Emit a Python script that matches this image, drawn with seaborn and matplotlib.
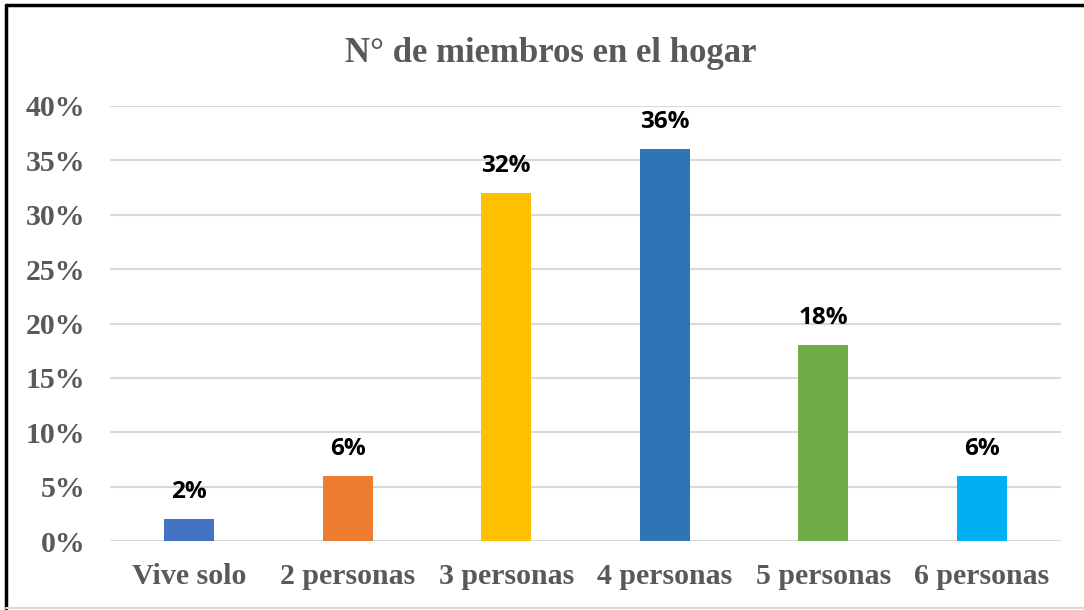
import matplotlib
matplotlib.use("Agg")
import matplotlib.pyplot as plt
import seaborn as sns
import pandas as pd
from matplotlib.lines import Line2D

# Datos del gráfico
categorias = ["Vive solo", "2 personas", "3 personas", "4 personas", "5 personas", "6 personas"]
porcentajes = [2, 6, 32, 36, 18, 6]
colores = ["#4472C4", "#ED7D31", "#FFC000", "#2E75B6", "#70AD47", "#00B0F0"]
ticks_y = [0, 5, 10, 15, 20, 25, 30, 35, 40]

df = pd.DataFrame({"categoria": categorias, "valor": porcentajes})

sns.set_style("white")
plt.rcParams["font.family"] = ["Liberation Serif", "DejaVu Serif"]

fig = plt.figure(figsize=(10.84, 6.10), dpi=100)
ax = fig.add_axes([110 / 1084, 69 / 610, 951 / 1084, 435 / 610])

sns.barplot(data=df, x="categoria", y="valor", hue="categoria", palette=colores,
            width=0.315, legend=False, ax=ax, saturation=1, zorder=3, linewidth=0)

ax.set_ylim(0, 40)
ax.set_yticks(ticks_y)
ax.set_yticklabels([f"{t}%" for t in ticks_y], fontsize=21.5, fontweight="bold", color="#595959")
ax.set_xticklabels(categorias, fontsize=21.5, fontweight="bold", color="#595959")
ax.tick_params(axis="both", length=0)
ax.tick_params(axis="y", pad=18)
ax.tick_params(axis="x", pad=16)
ax.set_xlabel("")
ax.set_ylabel("")
ax.grid(axis="y", color="#D9D9D9", linewidth=1.5, zorder=0)
for s in ax.spines.values():
    s.set_visible(False)

# Etiquetas de datos
for i, v in enumerate(porcentajes):
    ax.text(i, v + 1.4, f"{v}%", ha="center", va="bottom", fontsize=17.5,
            fontweight="bold", color="black", family=["Open Sans", "DejaVu Sans"])

fig.text(0.508, 0.913, "N° de miembros en el hogar", ha="center", va="center",
         fontsize=25, fontweight="bold", color="#595959")

# Borde del gráfico
fig.add_artist(Line2D([6 / 1084, 1], [1 - 5 / 610, 1 - 5 / 610], color="black", linewidth=2.5))
fig.add_artist(Line2D([6 / 1084, 6 / 1084], [2 / 610, 1 - 5 / 610], color="black", linewidth=2.5))
fig.add_artist(Line2D([6 / 1084, 1], [2 / 610, 2 / 610], color="#D9D9D9", linewidth=1.5))

fig.savefig("out.png", dpi=100)
